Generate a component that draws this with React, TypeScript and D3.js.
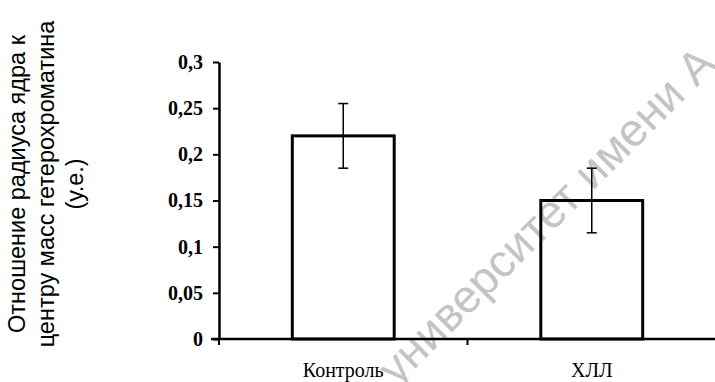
import * as d3 from "d3";
import { useEffect, useRef } from "react";

const categories = ["Контроль", "ХЛЛ"];
const values = [0.22, 0.15];
const errors = [0.035, 0.035];
const yTicks = [0, 0.05, 0.1, 0.15, 0.2, 0.25, 0.3];
const yTitleLines = ["Отношение радиуса ядра к", "центру масс гетерохроматина", "(у.е.)"];
const watermark = "университет имени А";

const WIDTH = 715;
const HEIGHT = 382;

const App = () => {
  const svgRef = useRef<SVGSVGElement | null>(null);

  useEffect(() => {
    const svg = d3.select(svgRef.current);
    svg.selectAll("*").remove();

    const y = d3.scaleLinear().domain([0, 0.3]).range([339, 62]);
    const x = d3.scaleBand().domain(categories).range([219, 716]).padding(0);
    const barW = x.bandwidth() * 0.41;

    svg.append("rect").attr("width", WIDTH).attr("height", HEIGHT).attr("fill", "#fff");

    // watermark behind everything
    svg
      .append("text")
      .attr("transform", "translate(718,66) rotate(-45)")
      .attr("text-anchor", "end")
      .attr("font-family", "'Liberation Sans', Arial, sans-serif")
      .attr("font-size", 46)
      .attr("fill", "#c4c4c4")
      .text(watermark);

    // bars
    svg
      .selectAll(".bar")
      .data(categories)
      .enter()
      .append("rect")
      .attr("x", (d) => x(d)! + x.bandwidth() / 2 - barW / 2)
      .attr("y", (d, i) => y(values[i]))
      .attr("width", barW)
      .attr("height", (d, i) => y(0) - y(values[i]))
      .attr("fill", "none")
      .attr("stroke", "#000")
      .attr("stroke-width", 3);

    // error bars
    const err = svg.selectAll(".err").data(categories).enter().append("g");
    const cx = (d: string) => x(d)! + x.bandwidth() / 2;
    err
      .append("line")
      .attr("x1", cx)
      .attr("x2", cx)
      .attr("y1", (d, i) => y(values[i] + errors[i]))
      .attr("y2", (d, i) => y(values[i] - errors[i]))
      .attr("stroke", "#000")
      .attr("stroke-width", 1.5);
    [1, -1].forEach((s) => {
      err
        .append("line")
        .attr("x1", (d) => cx(d) - 5)
        .attr("x2", (d) => cx(d) + 5)
        .attr("y1", (d, i) => y(values[i] + s * errors[i]))
        .attr("y2", (d, i) => y(values[i] + s * errors[i]))
        .attr("stroke", "#000")
        .attr("stroke-width", 1.5);
    });

    // y axis
    const yAxis = svg
      .append("g")
      .attr("transform", "translate(219,0)")
      .call(
        d3
          .axisLeft(y)
          .tickValues(yTicks)
          .tickSize(6)
          .tickPadding(10)
          .tickSizeOuter(0)
          .tickFormat((d) => String(d).replace(".", ","))
      );
    yAxis.select(".domain").attr("stroke-width", 2.5);
    yAxis.selectAll(".tick line").attr("stroke-width", 2);
    yAxis
      .selectAll("text")
      .attr("font-family", "'Liberation Serif', 'Times New Roman', serif")
      .attr("font-weight", "bold")
      .attr("font-size", 20)
      .attr("fill", "#000");

    // x axis line with ticks between categories
    svg
      .append("line")
      .attr("x1", 211)
      .attr("x2", 715)
      .attr("y1", y(0))
      .attr("y2", y(0))
      .attr("stroke", "#000")
      .attr("stroke-width", 2.5);
    const bounds = [x(categories[0])!, x(categories[1])!];
    svg
      .selectAll(".xtick")
      .data(bounds)
      .enter()
      .append("line")
      .attr("x1", (d) => d)
      .attr("x2", (d) => d)
      .attr("y1", y(0))
      .attr("y2", y(0) + 6)
      .attr("stroke", "#000")
      .attr("stroke-width", 2);

    // category labels
    svg
      .selectAll(".xlabel")
      .data(categories)
      .enter()
      .append("text")
      .attr("x", cx)
      .attr("y", 377)
      .attr("text-anchor", "middle")
      .attr("font-family", "'Liberation Serif', 'Times New Roman', serif")
      .attr("font-size", 20)
      .attr("fill", "#000")
      .text((d) => d);

    // y title
    const yt = svg
      .append("text")
      .attr("transform", "rotate(-90)")
      .attr("text-anchor", "middle")
      .attr("font-family", "'Liberation Sans', Arial, sans-serif")
      .attr("font-size", 23.5)
      .attr("fill", "#000");
    yTitleLines.forEach((line, i) => {
      yt.append("tspan")
        .attr("x", -184)
        .attr("y", 25 + i * 29)
        .text(line);
    });
  }, []);

  return (
    <svg
      ref={svgRef}
      width={WIDTH}
      height={HEIGHT}
      style={{ position: "absolute", left: 0, top: 0 }}
    />
  );
};

export default App;
